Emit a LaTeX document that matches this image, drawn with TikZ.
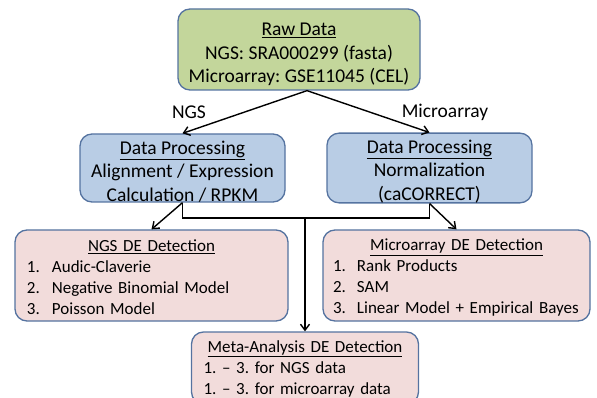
\documentclass[tikz,border=0pt]{standalone}
\usepackage{fontspec}
\setmainfont{Carlito}
\usetikzlibrary{arrows.meta}
\definecolor{rawgreen}{RGB}{195,214,155}
\definecolor{procblue}{RGB}{185,205,229}
\definecolor{detpink}{RGB}{242,220,219}
\definecolor{boxline}{RGB}{85,115,160}
\frenchspacing
\newcommand\boxstrut[1]{\rule{0pt}{#1}}

\begin{document}
\begin{tikzpicture}[x=1pt, y=-1pt,
  box/.style={draw=boxline, line width=1.3pt, rounded corners=12pt, inner sep=0pt},
  bigtext/.style={font=\fontsize{19.5}{23.5}\selectfont, align=center},
  listtext/.style={font=\fontsize{17}{21}\selectfont, align=left},
  flow/.style={line width=1.4pt, -{Straight Barb[length=6pt,width=9pt]}},
  edgelabel/.style={font=\fontsize{19.5}{22}\selectfont, inner sep=0pt}]
\useasboundingbox (0,0) rectangle (597,398);
\node[box, bigtext, fill=rawgreen, minimum width=242, minimum height=81] (raw) at (299,49.5) {\boxstrut{23pt}\underline{Raw Data}\\NGS: SRA000299 (fasta)\\Microarray: GSE11045 (CEL)};
\node[box, bigtext, fill=procblue, minimum width=205, minimum height=68] (dpl) at (182.5,168) {\boxstrut{20pt}\underline{Data Processing}\\Alignment / Expression\\Calculation / RPKM};
\node[box, bigtext, fill=procblue, minimum width=205, minimum height=68] (dpr) at (429.5,168) {\boxstrut{20pt}\underline{Data Processing}\\Normalization\\(caCORRECT)};
\node[box, listtext, fill=detpink, text width=273, minimum height=91] (ngsde) at (151.5,275.5) {\boxstrut{16pt}\makebox[\linewidth]{\underline{NGS DE Detection}}\\
  \hspace*{12pt}\makebox[25pt][l]{1.}Audic-Claverie\\
  \hspace*{12pt}\makebox[25pt][l]{2.}Negative Binomial Model\\
  \hspace*{12pt}\makebox[25pt][l]{3.}Poisson Model};
\node[box, listtext, fill=detpink, text width=267, minimum height=91] (microde) at (456.5,275.5) {\boxstrut{16pt}\makebox[\linewidth]{\underline{Microarray DE Detection}}\\
  \hspace*{10pt}\makebox[24pt][l]{1.}Rank Products\\
  \hspace*{10pt}\makebox[24pt][l]{2.}SAM\\
  \hspace*{10pt}\makebox[24pt][l]{3.}Linear Model + Empirical Bayes};
\node[box, listtext, fill=detpink, text width=227, minimum height=72] (meta) at (305,368) {\boxstrut{13pt}\makebox[\linewidth]{\underline{Meta-Analysis DE Detection}}\\
  \hspace*{12pt}1. -- 3. for NGS data\\
  \hspace*{12pt}1. -- 3. for microarray data};
\node[edgelabel] (ngslabel) at (189,112) {NGS};
\node[edgelabel] (microlabel) at (445,112) {Microarray};
\coordinate (split) at ([xshift=8pt]raw.south);
\coordinate (bus) at (305,218);
\draw[flow] (split) -- (dpl.north);
\draw[flow] (split) -- (dpr.north);
\draw[flow] (dpl.south) -- (ngsde.north);
\draw[flow] (dpr.south) -- (microde.north);
\draw[line width=1.4pt] (dpl.south) |- (bus) -| (dpr.south);
\draw[flow] (bus) -- (meta.north);
\end{tikzpicture}
\end{document}
